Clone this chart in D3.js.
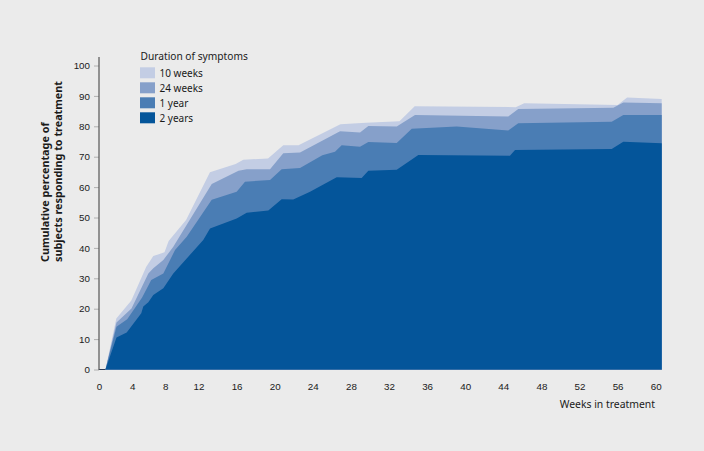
<!DOCTYPE html>
<html><head><meta charset="utf-8">
<script src="https://cdn.jsdelivr.net/npm/d3@7"></script>
<style>
html,body{margin:0;padding:0;background:#ebebeb;}
svg{display:block;font-family:"Noto Sans","Open Sans",sans-serif;}
</style></head>
<body><svg id="c" width="704" height="451"></svg>
<script>
// ---- data (weeks, cumulative %) ----
const seriesNames = ["10 weeks", "24 weeks", "1 year", "2 years"];
const colors = ["#c3cde4", "#86a0ca", "#4a7db4", "#04559a"];

const weeks10w = [0.78, 2.09, 3.9, 5.7, 6.55, 7.9, 8.4, 10.5, 13.2, 15.9, 16.7, 19.3, 20.9, 22.5, 26.9, 29.6, 33.1, 34.7, 45.3, 46.2, 56.0, 57.0, 60.63];
const values10w = [0, 16.8, 22.7, 33.8, 37.3, 38.6, 42.3, 49.2, 64.9, 67.6, 69.0, 69.4, 73.8, 73.8, 80.7, 81.2, 81.7, 86.6, 86.3, 87.6, 87.0, 89.5, 89.0];

const weeks24w = [0.78, 2.11, 3.92, 5.95, 6.55, 7.76, 8.96, 13.39, 16.2, 17.06, 19.51, 20.9, 22.66, 26.86, 28.96, 29.83, 32.81, 34.73, 44.52, 45.57, 55.55, 56.6, 60.63];
const values24w = [0, 15.5, 20.1, 31.6, 33.3, 36.0, 40.4, 61.0, 65.4, 65.9, 65.9, 71.1, 71.4, 78.4, 78.0, 80.1, 79.9, 83.7, 83.2, 85.7, 86.1, 87.8, 87.6];

const weeks1y = [0.78, 2.11, 3.4, 5.2, 6.3, 7.76, 9.17, 10.58, 13.39, 16.01, 16.88, 19.51, 20.73, 22.66, 25.0, 26.33, 27.03, 28.96, 29.83, 32.81, 34.39, 39.1, 44.52, 45.57, 55.38, 56.6, 60.63];
const values1y = [0, 14.1, 16.5, 23.7, 29.4, 31.6, 39.3, 43.7, 55.8, 58.5, 61.8, 62.3, 65.9, 66.3, 70.5, 71.6, 73.8, 73.3, 74.8, 74.5, 79.2, 79.9, 78.6, 81.0, 81.5, 83.7, 83.7];

const weeks2y = [0.78, 2.11, 3.34, 5.1, 5.34, 5.95, 6.55, 7.76, 8.96, 12.5, 13.21, 16.01, 17.06, 19.33, 20.73, 21.95, 23.71, 26.51, 29.13, 29.83, 32.81, 35.08, 44.7, 45.23, 55.38, 56.6, 60.63];
const values2y = [0, 10.5, 12.2, 18.5, 20.7, 22.1, 24.5, 26.7, 31.6, 42.6, 46.4, 49.7, 51.6, 52.3, 56.0, 55.9, 58.5, 63.2, 63.0, 65.4, 65.7, 70.6, 70.3, 72.2, 72.5, 74.9, 74.4];

const xTicks = [0, 4, 8, 12, 16, 20, 24, 28, 32, 36, 40, 44, 48, 52, 56, 60];
const yTicks = [0, 10, 20, 30, 40, 50, 60, 70, 80, 90, 100];

// ---- drawing ----
const svg = d3.select("#c");
svg.append("rect").attr("width", 704).attr("height", 451).attr("fill", "#ebebeb");

const x = d3.scaleLinear().domain([0, 12, 60]).range([99, 198.5, 655.7]);
const y = d3.scaleLinear().domain([0, 100]).range([369.5, 65.5]);

const seriesData = [
  d3.zip(weeks10w, values10w),
  d3.zip(weeks24w, values24w),
  d3.zip(weeks1y, values1y),
  d3.zip(weeks2y, values2y)
];

// x baseline
svg.append("line").attr("x1", x(0)).attr("x2", x(60.63)).attr("y1", y(0)).attr("y2", y(0))
  .attr("stroke", "#2b3a55").attr("stroke-width", 1.2);

const area = d3.area().x(d => x(d[0])).y0(y(0)).y1(d => y(d[1]));
svg.append("g").selectAll("path").data(seriesData).join("path")
  .attr("d", area).attr("fill", (d, i) => colors[i]);

// y axis
const yAxis = d3.axisLeft(y).tickValues(yTicks).tickSize(5).tickPadding(4);
const gy = svg.append("g").attr("transform", `translate(${x(0)},0)`).call(yAxis);
gy.select(".domain").remove();
gy.selectAll(".tick line").attr("stroke", "#b0b0b0");
gy.selectAll(".tick text").attr("fill", "#1a1a1a").style("font-size", "9.8px").style("font-family", "inherit");
svg.append("line").attr("x1", x(0)).attr("x2", x(0)).attr("y1", 57).attr("y2", y(0) + 0.5)
  .attr("stroke", "#555").attr("stroke-width", 1.2);

// x axis
const xAxis = d3.axisBottom(x).tickValues(xTicks).tickSize(0).tickPadding(14);
const gx = svg.append("g").attr("transform", `translate(0,${y(0)})`).call(xAxis);
gx.select(".domain").remove();
gx.selectAll(".tick text").attr("fill", "#1a1a1a").style("font-size", "9.8px").style("font-family", "inherit");

// axis titles
svg.append("text").attr("x", 655).attr("y", 408).attr("text-anchor", "end")
  .style("font-size", "10.4px").attr("fill", "#1a1a1a").text("Weeks in treatment");

const yt = svg.append("text").attr("transform", "translate(49,262) rotate(-90)")
  .style("font-size", "10.8px").style("font-weight", "bold").attr("fill", "#1a1a1a");
yt.append("tspan").attr("x", 0).attr("y", 0).text("Cumulative percentage of");
yt.append("tspan").attr("x", 0).attr("y", 13).text("subjects responding to treatment");

// legend
svg.append("text").attr("x", 140.5).attr("y", 59.5).style("font-size", "10.2px").attr("fill", "#1a1a1a")
  .text("Duration of symptoms");
const lg = svg.append("g").selectAll("g").data(seriesNames).join("g")
  .attr("transform", (d, i) => `translate(140,${67.3 + i * 15})`);
lg.append("rect").attr("width", 15).attr("height", 11).attr("fill", (d, i) => colors[i]);
lg.append("text").attr("x", 19.5).attr("y", 9.5).style("font-size", "10px").attr("fill", "#1a1a1a").text(d => d);
</script>
</body></html>
